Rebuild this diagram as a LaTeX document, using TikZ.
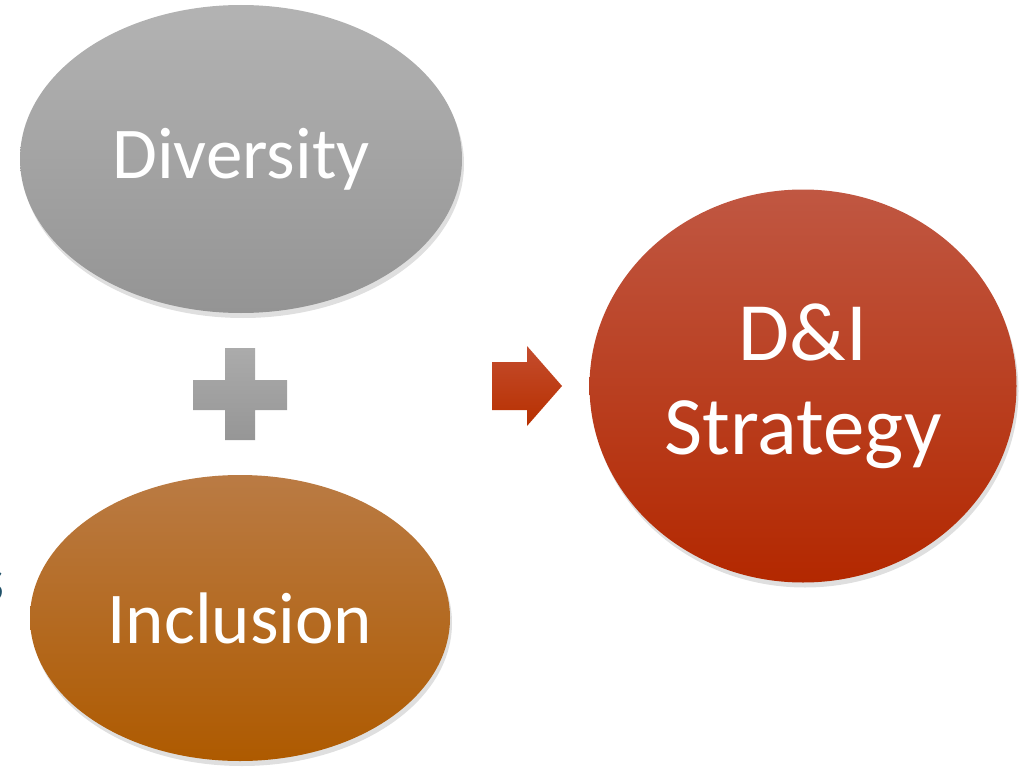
\documentclass[tikz,border=0pt]{standalone}
\usepackage{fontspec}
\setmainfont{Carlito}
\usetikzlibrary{shapes.geometric,shadows}
\definecolor{divtop}{HTML}{B3B3B3}
\definecolor{divbot}{HTML}{949494}
\definecolor{inctop}{HTML}{BA7B44}
\definecolor{incbot}{HTML}{AE5A00}
\definecolor{strtop}{HTML}{C05742}
\definecolor{strbot}{HTML}{B32800}
\definecolor{arrtop}{HTML}{C44C2E}
\definecolor{arrbot}{HTML}{B73000}
\definecolor{plustop}{HTML}{ABABAB}
\definecolor{plusbot}{HTML}{969696}
\definecolor{teal}{HTML}{1F5068}
\tikzset{
  blob/.style={ellipse,inner sep=0pt,text=white,align=center,
    drop shadow={shadow xshift=2pt,shadow yshift=-5pt,opacity=0.25}},
  glyph/.style={drop shadow={shadow xshift=1pt,shadow yshift=-3pt,opacity=0.25}}
}
\begin{document}
\begin{tikzpicture}[x=1pt,y=-1pt]
      \useasboundingbox (0,0) rectangle (1025,768);
      \draw
        (241,159) node[blob,minimum width=442pt,minimum height=308pt,
          top color=divtop,bottom color=divbot,
          font=\fontsize{73}{88}\selectfont] (div){Diversity}
        (240,618) node[blob,minimum width=420pt,minimum height=286pt,
          top color=inctop,bottom color=incbot,
          font=\fontsize{73}{88}\selectfont] (inc){Inclusion}
        (803,386) node[blob,minimum width=427pt,minimum height=393pt,
          top color=strtop,bottom color=strbot,
          font=\fontsize{83}{94}\selectfont] (dni){D\&I\\Strategy}
        (-8,586) node[text=teal,inner sep=0pt,
          font=\fontsize{64}{70}\selectfont] (cut){s};
      \begin{scope}[glyph]
        \shade[top color=plustop,bottom color=plusbot]
          (225,348) -- (255,348) -- (255,380) -- (287,380) -- (287,410)
          -- (255,410) -- (255,440) -- (225,440) -- (225,410) -- (193,410)
          -- (193,380) -- (225,380) -- cycle;
        \shade[top color=arrtop,bottom color=arrbot]
          (492,362) -- (527,362) -- (527,346) -- (562,386) -- (527,426)
          -- (527,410) -- (492,410) -- cycle;
      \end{scope}
    \end{tikzpicture}
\end{document}
